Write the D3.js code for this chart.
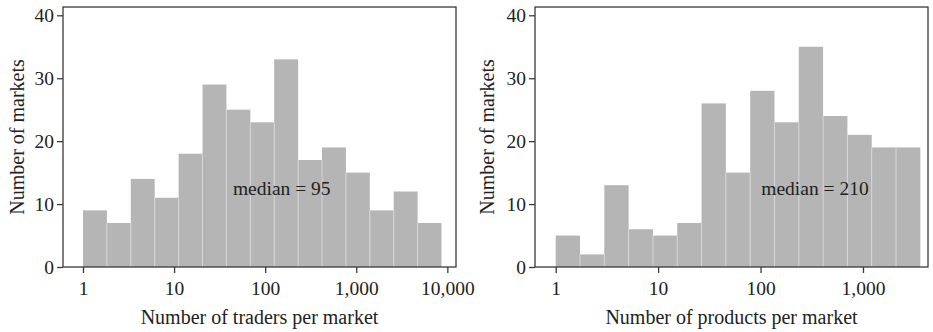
<!DOCTYPE html>
<html>
<head>
<meta charset="utf-8">
<script src="https://cdn.jsdelivr.net/npm/d3@7"></script>
<style>
  html, body { margin: 0; padding: 0; background: #fff; }
  svg { display: block; }
  text { font-family: "Liberation Serif", "Times New Roman", serif; fill: #222; }
</style>
</head>
<body>
<svg id="chart" width="933" height="332"></svg>
<script>
// Histogram counts (15 log-spaced bins each)
const tradersCounts = [9, 7, 14, 11, 18, 29, 25, 23, 33, 17, 19, 15, 9, 12, 7];
const productsCounts = [5, 2, 13, 6, 5, 7, 26, 15, 28, 23, 35, 24, 21, 19, 19];

// Range of the binned variable (min and max per market)
const tradersRange = [1, 8630];
const productsRange = [1, 3630];

// Axis ticks
const tradersTicks = [1, 10, 100, 1000, 10000];
const productsTicks = [1, 10, 100, 1000];
const yTicks = [0, 10, 20, 30, 40];

// Axis domains
const tradersDomain = [0.603, 12445];
const productsDomain = [0.628, 4313];

// Medians and label placement (data coordinates)
const tradersMedian = 95;
const productsMedian = 210;
const tradersLabelAt = [152, 12.5];
const productsLabelAt = [340, 12.5];

const yLabel = "Number of markets";
const tradersTitle = "Number of traders per market";
const productsTitle = "Number of products per market";

const svg = d3.select("#chart");

function panel(opts) {
  const { left, right, top, bottom, counts, range, ticks, domain, title, label, labelAt, yTitleX } = opts;
  const g = svg.append("g");

  const x = d3.scaleLog().domain(domain).range([left, right]);
  const y = d3.scaleLinear().domain([0, 40]).range([bottom, 15.3]);

  // log-spaced bin edges
  const lo = Math.log10(range[0]), hi = Math.log10(range[1]);
  const n = counts.length;
  const edges = d3.range(n + 1).map(i => Math.pow(10, lo + (hi - lo) * i / n));
  const bins = counts.map((c, i) => ({ x0: edges[i], x1: edges[i + 1], c }));

  g.selectAll("rect.bar").data(bins).join("rect")
    .attr("class", "bar")
    .attr("x", d => x(d.x0))
    .attr("width", d => x(d.x1) - x(d.x0))
    .attr("y", d => y(d.c))
    .attr("height", d => y(0) - y(d.c))
    .attr("fill", "#b5b5b5");

  // light separators between adjacent bars
  g.selectAll("line.sep").data(bins.slice(1).map((d, i) => ({ at: d.x0, h: Math.min(d.c, bins[i].c) })))
    .join("line")
    .attr("x1", d => x(d.at)).attr("x2", d => x(d.at))
    .attr("y1", y(0)).attr("y2", d => y(d.h))
    .attr("stroke", "#d6d6d6").attr("stroke-width", 1);

  // plot frame
  g.append("rect")
    .attr("x", left).attr("y", top)
    .attr("width", right - left).attr("height", bottom - top)
    .attr("fill", "none").attr("stroke", "#3a3a3a").attr("stroke-width", 1.3);

  // x axis
  const xa = g.append("g").attr("transform", `translate(0,${bottom})`)
    .call(d3.axisBottom(x).tickValues(ticks).tickFormat(d3.format(",")).tickSize(6).tickPadding(8));
  xa.select(".domain").remove();
  xa.selectAll(".tick line").attr("stroke", "#3a3a3a").attr("stroke-width", 1.3);
  xa.selectAll(".tick text").attr("font-size", 19.5).attr("fill", "#222")
    .style("font-family", '"Liberation Serif", serif');

  // y axis
  const ya = g.append("g").attr("transform", `translate(${left},0)`)
    .call(d3.axisLeft(y).tickValues(yTicks).tickSize(6).tickPadding(3));
  ya.select(".domain").remove();
  ya.selectAll(".tick line").attr("stroke", "#3a3a3a").attr("stroke-width", 1.3);
  ya.selectAll(".tick text").attr("font-size", 19.5).attr("fill", "#222")
    .style("font-family", '"Liberation Serif", serif');

  // axis titles
  g.append("text")
    .attr("x", (left + right) / 2).attr("y", 324)
    .attr("text-anchor", "middle").attr("font-size", 20)
    .text(title);

  g.append("text")
    .attr("transform", `translate(${yTitleX},${(top + bottom) / 2}) rotate(-90)`)
    .attr("text-anchor", "middle").attr("font-size", 20)
    .text(yLabel);

  // median annotation
  g.append("text")
    .attr("x", x(labelAt[0])).attr("y", y(labelAt[1]))
    .attr("text-anchor", "middle").attr("dominant-baseline", "central")
    .attr("font-size", 19.5)
    .text(label);
}

panel({
  left: 63, right: 456, top: 7, bottom: 267,
  counts: tradersCounts, range: tradersRange, ticks: tradersTicks, domain: tradersDomain,
  title: tradersTitle, label: `median = ${tradersMedian}`, labelAt: tradersLabelAt, yTitleX: 24
});

panel({
  left: 535, right: 928, top: 7, bottom: 267,
  counts: productsCounts, range: productsRange, ticks: productsTicks, domain: productsDomain,
  title: productsTitle, label: `median = ${productsMedian}`, labelAt: productsLabelAt, yTitleX: 494
});
</script>
</body>
</html>
